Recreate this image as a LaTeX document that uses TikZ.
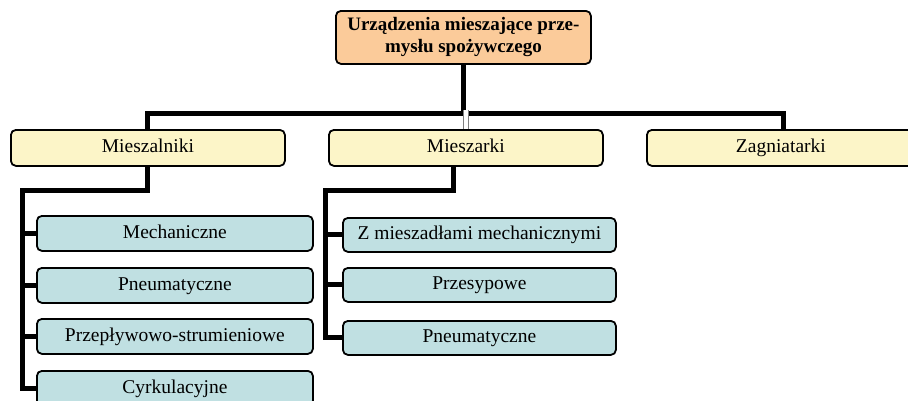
\documentclass[tikz,border=0pt]{standalone}
\usepackage{fontspec}
\setmainfont{Liberation Serif}
\usetikzlibrary{backgrounds}
\definecolor{rootfill}{HTML}{FBCB9A}
\definecolor{lvlone}{HTML}{FCF5C8}
\definecolor{lvltwo}{HTML}{C0E0E2}
\tikzset{
  box/.style={draw=black, line width=1.8pt, rounded corners=5pt, inner sep=0pt,
    font=\fontsize{19.5}{22}\selectfont, anchor=north west},
  rootbox/.style={box, fill=rootfill, font=\fontsize{19}{22}\selectfont\bfseries, align=center},
  onebox/.style={box, fill=lvlone, minimum height=36pt, text height=14pt, text depth=4pt},
  twobox/.style={box, fill=lvltwo, minimum height=35pt, text height=14pt, text depth=4pt},
  conn/.style={draw=black, line width=5pt},
  hollow/.style={draw=gray, line width=0.6pt, double=white, double distance=4pt}
}
\begin{document}
\begin{tikzpicture}[x=1pt,y=-1pt]
\useasboundingbox (0,0) rectangle (908,400);
% boxes
\node[rootbox, minimum width=255pt, minimum height=53pt] (root) at (335,10) {Urządzenia mieszające prze-\\mysłu spożywczego};
\node[onebox, minimum width=274pt] (mieszalniki) at (10,129) {Mieszalniki};
\node[onebox, minimum width=274pt] (mieszarki) at (328,129) {Mieszarki};
\node[onebox, minimum width=268pt] (zagniatarki) at (646,129) {Zagniatarki};
\node[twobox, minimum width=276pt] (mech) at (36,215) {Mechaniczne};
\node[twobox, minimum width=276pt] (pneu) at (36,267) {Pneumatyczne};
\node[twobox, minimum width=276pt] (przep) at (36,318) {Przepływowo-strumieniowe};
\node[twobox, minimum width=276pt] (cyrk) at (36,370) {Cyrkulacyjne};
\node[twobox, minimum width=273pt, minimum height=34pt] (zmiesz) at (342,217) {Z mieszadłami mechanicznymi};
\node[twobox, minimum width=273pt, minimum height=34pt] (przes) at (342,267) {Przesypowe};
\node[twobox, minimum width=273pt, minimum height=34pt] (pneu2) at (342,320) {Pneumatyczne};
% junction coordinates
\coordinate (bar) at (0,113);
\coordinate (lowbar) at (0,190);
\coordinate (lspine) at (22,190);
\coordinate (mspine) at (325,190);
\coordinate (lstem) at (mieszalniki.north);
\coordinate (mstem) at ([xshift=-12pt]mieszarki.south);
\coordinate (zstem) at ([xshift=3pt]zagniatarki.north);
% connectors (behind boxes)
\begin{scope}[on background layer]
\draw[conn] (root.south) -- (root.south |- bar);
\draw[conn] ([xshift=-2.5pt]lstem |- bar) -- ([xshift=2.5pt]zstem |- bar);
\draw[conn] (lstem |- bar) -- (mieszalniki.south |- lowbar) -- (lspine) -- (lspine |- cyrk.west) -- (cyrk.west);
\draw[conn] (lspine |- mech.west) -- (mech.west);
\draw[conn] (lspine |- pneu.west) -- (pneu.west);
\draw[conn] (lspine |- przep.west) -- (przep.west);
\draw[conn] (zstem |- bar) -- (zstem);
\draw[conn] (mstem) -- (mstem |- lowbar) -- (mspine) -- (mspine |- pneu2.west) -- (pneu2.west);
\draw[conn] (mspine |- zmiesz.west) -- (zmiesz.west);
\draw[conn] (mspine |- przes.west) -- (przes.west);
\end{scope}
\draw[hollow] ([yshift=3pt]mieszarki.north |- bar) -- (mieszarki.north);
\end{tikzpicture}
\end{document}
